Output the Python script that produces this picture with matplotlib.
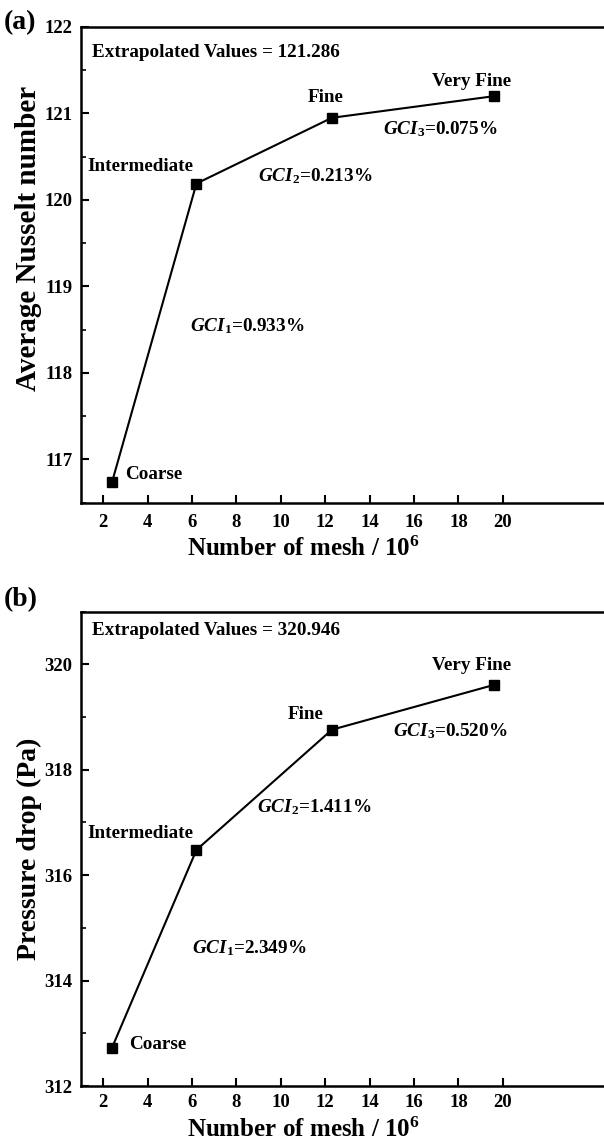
import numpy as np
import matplotlib
matplotlib.use("Agg")
import matplotlib.pyplot as plt

plt.rcParams['font.family'] = 'Liberation Serif'
plt.rcParams['font.weight'] = 'bold'
plt.rcParams['mathtext.fontset'] = 'custom'
plt.rcParams['mathtext.rm'] = 'Liberation Serif:bold'
plt.rcParams['mathtext.it'] = 'Liberation Serif:bold:italic'
plt.rcParams['mathtext.bf'] = 'Liberation Serif:bold'

# grid sizes (millions of cells)
mesh = [2.4, 6.2, 12.3, 19.6]
mesh_names = ['Coarse', 'Intermediate', 'Fine', 'Very Fine']

nusselt = [116.74, 120.19, 120.95, 121.20]
nu_extrap = 121.286
nu_gci = ['0.933', '0.213', '0.075']

dp = [312.73, 316.48, 318.76, 319.61]
dp_extrap = 320.946
dp_gci = ['2.349', '1.411', '0.520']

xticks = [2, 4, 6, 8, 10, 12, 14, 16, 18, 20]

fig = plt.figure(figsize=(6.04, 11.48), dpi=100)
ax1 = fig.add_axes([0.1341, 0.5621, 0.919, 0.4144])
ax2 = fig.add_axes([0.1341, 0.0540, 0.919, 0.4132])


def style(ax, vals, ylim, ymaj, ylabel, ylabel_fs, ypos, xpad, xlab_y):
    ax.plot(mesh, vals, color='black', lw=1.5, marker='s', ms=7, mfc='black', mec='black')
    ax.set_xlim(1, 26)
    ax.set_ylim(*ylim)
    ax.set_xticks(xticks)
    ax.set_yticks(ymaj)
    ax.set_yticks(np.arange(ylim[0], ylim[1] + 0.01, (ymaj[1] - ymaj[0]) / 2), minor=True)
    ax.tick_params(axis='both', which='major', direction='in', length=5.5, width=1.5,
                   labelsize=13.5, top=False, right=False)
    ax.tick_params(axis='x', which='major', pad=xpad)
    ax.tick_params(axis='y', which='major', pad=6)
    ax.tick_params(axis='y', which='minor', direction='in', length=3.5, width=1.2, right=False)
    ax.tick_params(axis='x', which='minor', bottom=False)
    for s in ax.spines.values():
        s.set_linewidth(1.8)
    ax.set_xlabel(r'Number of mesh / 10$^{6}$', fontsize=18, fontweight='bold')
    ax.xaxis.set_label_coords(0.401, xlab_y)
    ax.set_ylabel(ylabel, fontsize=ylabel_fs, fontweight='bold')
    ax.yaxis.set_label_coords(ypos[0], ypos[1])


style(ax1, nusselt, (116.5, 122), [117, 118, 119, 120, 121, 122], 'Average Nusselt number',
      21, (-0.071, 0.556), 8, -0.071)
style(ax2, dp, (312, 321), [312, 314, 316, 318, 320], 'Pressure drop (Pa)',
      20, (-0.071, 0.501), 6, -0.0675)

fs = 13.8
# panel (a) annotations
ax1.text(1.5, 121.70, 'Extrapolated Values = %.3f' % nu_extrap, fontsize=fs, va='center')
ax1.text(2.99, 116.83, mesh_names[0], fontsize=fs, va='center')
ax1.text(3.67, 120.39, mesh_names[1], fontsize=fs, va='center', ha='center')
ax1.text(12.0, 121.18, mesh_names[2], fontsize=fs, va='center', ha='center')
ax1.text(18.6, 121.375, mesh_names[3], fontsize=fs, va='center', ha='center')
ax1.text(5.92, 118.54, r'$GCI_{1}$=%s%%' % nu_gci[0], fontsize=fs, va='center')
ax1.text(8.98, 120.28, r'$GCI_{2}$=%s%%' % nu_gci[1], fontsize=fs, va='center')
ax1.text(14.6, 120.82, r'$GCI_{3}$=%s%%' % nu_gci[2], fontsize=fs, va='center')

# panel (b) annotations
ax2.text(1.5, 320.65, 'Extrapolated Values = %.3f' % dp_extrap, fontsize=fs, va='center')
ax2.text(3.17, 312.79, mesh_names[0], fontsize=fs, va='center')
ax2.text(3.67, 316.79, mesh_names[1], fontsize=fs, va='center', ha='center')
ax2.text(11.14, 319.04, mesh_names[2], fontsize=fs, va='center', ha='center')
ax2.text(18.6, 319.97, mesh_names[3], fontsize=fs, va='center', ha='center')
ax2.text(6.0, 314.62, r'$GCI_{1}$=%s%%' % dp_gci[0], fontsize=fs, va='center')
ax2.text(8.94, 317.30, r'$GCI_{2}$=%s%%' % dp_gci[1], fontsize=fs, va='center')
ax2.text(15.06, 318.73, r'$GCI_{3}$=%s%%' % dp_gci[2], fontsize=fs, va='center')

fig.text(4 / 604, 1 - 23 / 1148, '(a)', fontsize=20, fontweight='bold', va='center')
fig.text(4 / 604, 1 - 600 / 1148, '(b)', fontsize=20, fontweight='bold', va='center')

fig.savefig('out.png', dpi=100)
